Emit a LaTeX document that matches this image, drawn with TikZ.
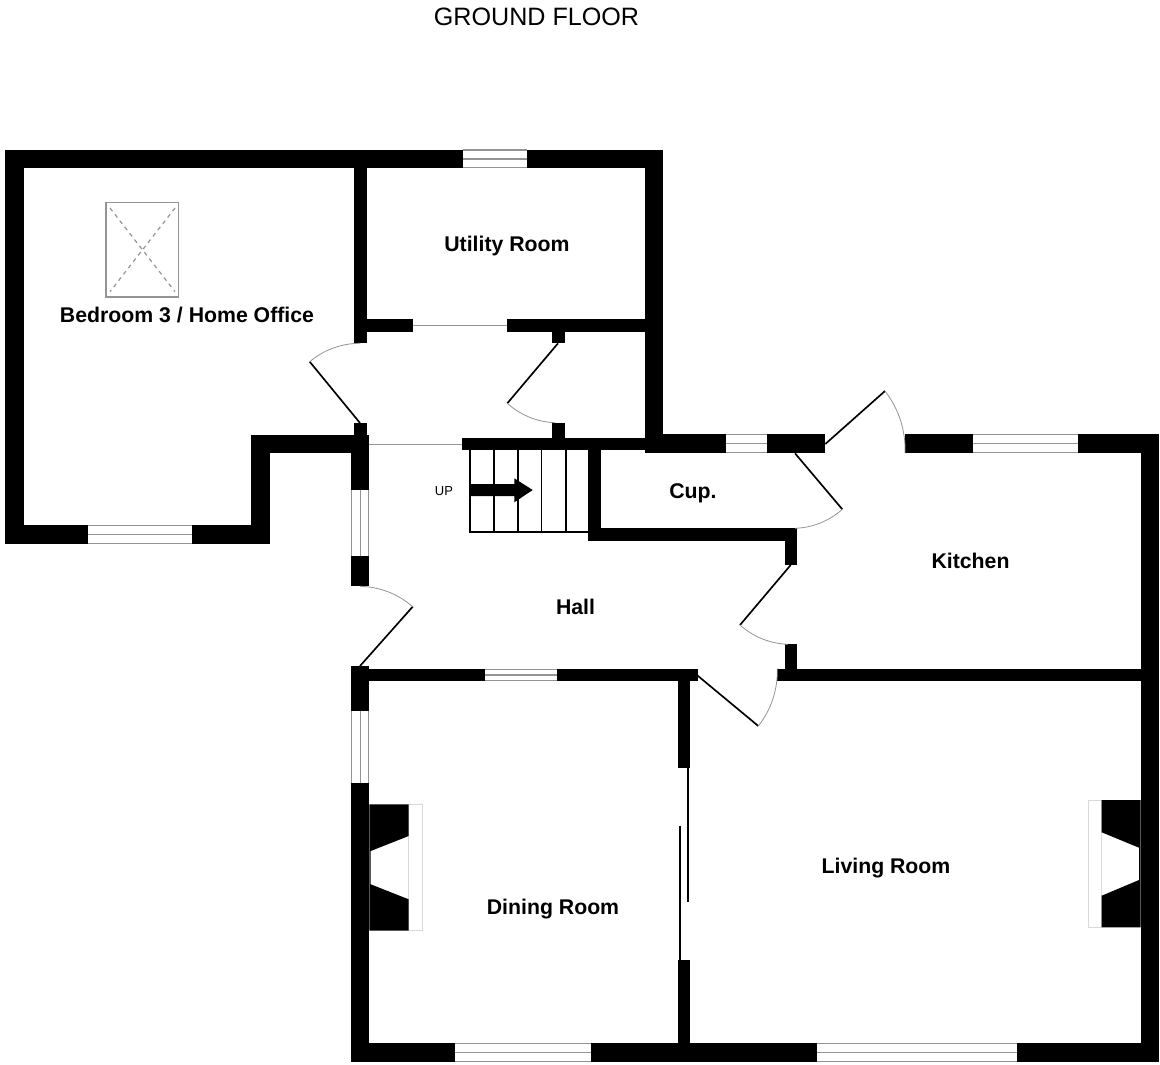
\documentclass[tikz,border=0pt]{standalone}
\usepackage{fontspec}
\setmainfont{Liberation Sans}
\definecolor{framegrey}{gray}{0.58}
\definecolor{boxgrey}{gray}{0.85}
\tikzset{
	wall/.style={fill=black},
	pane/.style={fill=white},
	sash/.style={draw=framegrey,line width=1pt},
	leaf/.style={draw=black,line width=1.25pt},
	swing/.style={draw=framegrey,line width=0.6pt,bend left=20,looseness=0.88},
	tread/.style={draw=black,line width=1.25pt},
	room/.style={font=\fontsize{15.95}{18}\selectfont\bfseries,anchor=base,inner sep=0pt}
}
\begin{document}
\begin{tikzpicture}[x=0.75pt,y=-0.75pt]
	\useasboundingbox (0,0) rectangle (1160,1064);

	\node[anchor=base,inner sep=0pt,font=\fontsize{18.85}{20}\selectfont] (title) at (536.5,25.5) {GROUND FLOOR};

	%walls
	\foreach \xa/\ya/\xb/\yb in {
		5/149.5/463.3/168.3, 527.3/149.5/663.3/168.3,
		5/149.5/23.5/544, 5/525/87.7/544, 192.3/525/269.7/544,
		250.7/435/269.7/544, 250.7/435/369.3/453.3,
		354/149.5/366.7/343.3, 354/319.3/412.7/332, 507/319.3/645/332,
		552/332/564.7/343.3, 552/422.7/564.7/440, 354/422.7/366.7/440,
		645/149.5/663.3/453.3, 462/437.7/645/450,
		645/434.3/726/453.3, 766.5/434.3/825.3/453.3,
		905/434.3/973.3/453.3, 1078.3/434.3/1159.3/453.3,
		1140.7/434.3/1159.3/1061.7,
		351/435/369.3/490, 351/556/369.3/586.3,
		588.3/450/601/540.7, 589/528.3/797.3/540.7, 785.3/528.3/797.3/565,
		785.3/644.3/797.3/675, 777.3/669/1141/681.3,
		351/666/369.3/711, 351/783.3/369.3/1061.7,
		351/669/485/681.3, 557.3/669/697.7/681.3,
		678/669/690.3/767.7, 678/960/690.3/1061.7,
		351/1043.3/455/1061.7, 591/1043.3/816.7/1061.7, 1017/1043.3/1159.3/1061.7}{
		\fill[wall] (\xa,\ya) rectangle (\xb,\yb);
	}

	%windows along x
	\foreach \xa/\xb/\ya/\yb in {
		463.3/527.3/149.5/168.3, 87.7/192.3/525/544,
		726/766.5/434.3/453.3, 973.3/1078.3/434.3/453.3,
		485/557.3/669/681.3, 455/591/1043.3/1061.7, 816.7/1017/1043.3/1061.7}{
		\fill[pane] (\xa,\ya) rectangle (\xb,\yb);
		\draw[sash] (\xa,\ya+0.5) -- (\xb,\ya+0.5);
		\draw[sash] (\xa,{(\ya+\yb)/2}) -- (\xb,{(\ya+\yb)/2});
		\draw[sash] (\xa,\yb-0.5) -- (\xb,\yb-0.5);
	}
	%windows along y
	\foreach \ya/\yb in {490/556, 711/783.3}{
		\fill[pane] (351,\ya) rectangle (369.3,\yb);
		\draw[sash] (351.5,\ya) -- (351.5,\yb);
		\draw[sash] (360.3,\ya) -- (360.3,\yb);
		\draw[sash] (368.8,\ya) -- (368.8,\yb);
	}

	%openings
	\draw[sash,line width=0.7pt] (412.7,325.5) -- (507,325.5);
	\draw[sash,line width=0.7pt] (369.3,444) -- (462,444);

	%doors
	\foreach \hx/\hy/\tx/\ty/\ax/\ay/\bx/\by in {
		360/423/309.7/361.7/309.7/361.7/360/343.3,
		558/343.3/507.3/403.3/555/422.7/507.3/403.3,
		360/666/412.7/606.7/360/586.3/412.7/606.7,
		795/453.3/842.3/509.3/842.3/509.3/795/528.3,
		790.7/565/740/625/788/644.3/740/625,
		697.7/675.7/758.3/726/777.3/668.3/758.3/726,
		825.3/444/885/391/885/391/905/453.3}{
		\draw[leaf] (\hx,\hy) -- (\tx,\ty);
		\draw[swing] (\ax,\ay) to (\bx,\by);
	}

	%sliding door
	\draw[leaf] (688.3,767.7) -- (688.3,901.7);
	\draw[leaf] (679.7,825.7) -- (679.7,960);

	%stairs
	\draw[tread] (470,450) -- (470,531.7) -- (588.3,531.7);
	\foreach \x in {493.7, 517.7, 541.5, 565.7}{
		\draw[tread] (\x,450) -- (\x,531.7);
	}
	\fill (470,484) -- (514.3,484) -- (514.3,478.3) -- (532.7,490) -- (514.3,502.3) -- (514.3,496) -- (470,496) -- cycle;
	\node[anchor=base,inner sep=0pt,font=\fontsize{9.75}{11}\selectfont] (up) at (444,495.3) {UP};

	%fireplaces
	\draw[draw=boxgrey,line width=0.6pt] (408.7,804.3) rectangle (422.3,930.7);
	\fill (369.3,804.3) -- (408.7,804.3) -- (408.7,836) -- (370.7,851) -- (370.7,884.3) -- (408.7,899.3) -- (408.7,930.7) -- (369.3,930.7) -- cycle;
	\draw[draw=boxgrey,line width=0.6pt] (1088.3,800) rectangle (1101.7,927.3);
	\fill (1140.7,800) -- (1101.7,800) -- (1101.7,832.3) -- (1139,847.7) -- (1139,880) -- (1101.7,895.7) -- (1101.7,927.3) -- (1140.7,927.3) -- cycle;

	%roof light
	\draw[sash,line width=1.2pt] (105.7,202.3) rectangle (178.3,296.7);
	\draw[draw=framegrey,line width=0.9pt,dashed] (110,208) -- (175,291.7);
	\draw[draw=framegrey,line width=0.9pt,dashed] (175,208) -- (110,291.7);

	%room labels
	\node[room] (bedroom) at (187,322.2) {Bedroom 3 / Home Office};
	\node[room] (utility) at (507,251) {Utility Room};
	\node[room] (cup) at (693,498.3) {Cup.};
	\node[room] (kitchen) at (970.5,568.3) {Kitchen};
	\node[room] (hall) at (575.5,614) {Hall};
	\node[room] (dining) at (553,914) {Dining Room};
	\node[room] (living) at (886,873.3) {Living Room};
\end{tikzpicture}
\end{document}
